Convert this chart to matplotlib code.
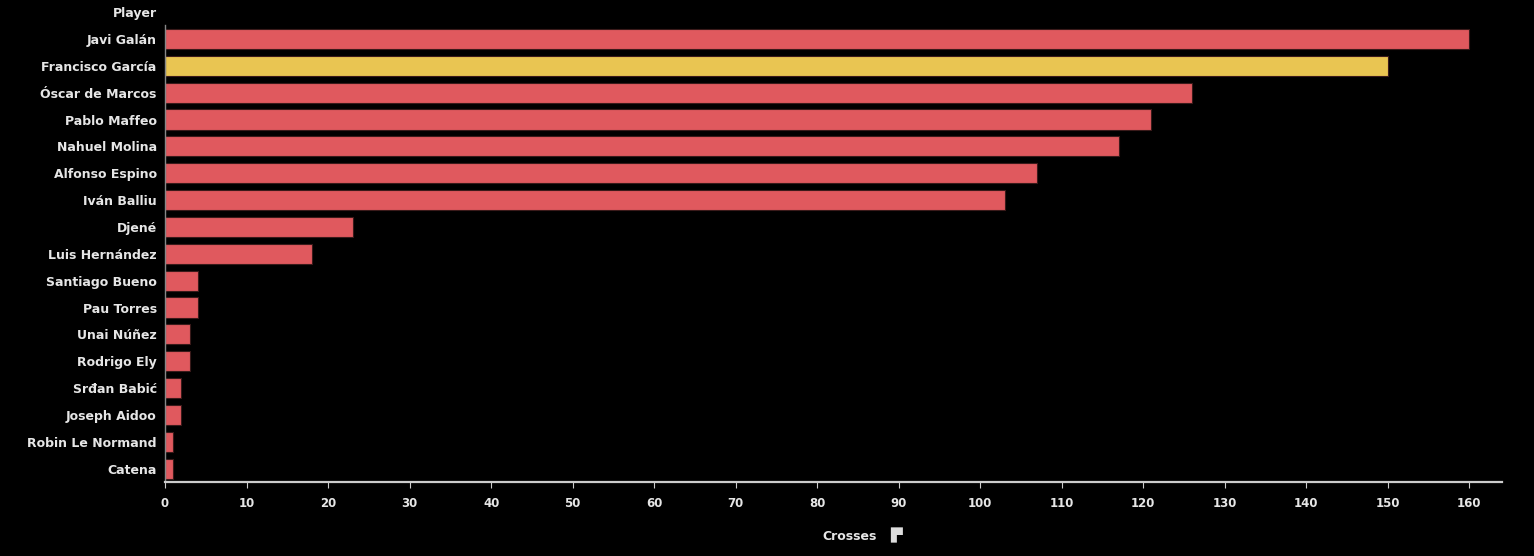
import matplotlib
matplotlib.use("Agg")
import matplotlib.pyplot as plt
import numpy as np

players = ["Javi Galán", "Francisco García", "Óscar de Marcos", "Pablo Maffeo",
           "Nahuel Molina", "Alfonso Espino", "Iván Balliu", "Djené",
           "Luis Hernández", "Santiago Bueno", "Pau Torres", "Unai Núñez",
           "Rodrigo Ely", "Srđan Babić", "Joseph Aidoo", "Robin Le Normand",
           "Catena"]
crosses = [160, 150, 126, 121, 117, 107, 103, 23, 18, 4, 4, 3, 3, 2, 2, 1, 1]
highlight = "Francisco García"
xticks = list(range(0, 161, 10))

red = "#e0595e"
yellow = "#e9c552"
txt = "#e6e6e6"

plt.rcParams['font.family'] = ['DejaVu Sans']

fig = plt.figure(figsize=(15.34, 5.56), dpi=100)
fig.patch.set_facecolor("black")
ax = fig.add_axes([0.1076, 0.133, 0.8715, 0.822])
ax.set_facecolor("black")

y = np.arange(len(players))
colors = [yellow if p == highlight else red for p in players]
ax.barh(y, crosses, height=0.75, color=colors, edgecolor="#3a1a1a", linewidth=0.8)

ax.set_ylim(len(players) - 0.5, -0.52)
ax.set_xlim(0, 164)
ax.set_yticks(y)
ax.set_yticklabels(players, fontsize=9, fontweight="bold", color=txt)
ax.set_xticks(xticks)
ax.set_xticklabels([str(t) for t in xticks], fontsize=8.5, fontweight="bold", color=txt)
ax.tick_params(axis="y", length=0, pad=6)
ax.tick_params(axis="x", length=4, color="#cccccc", pad=7)

for s in ["top", "right"]:
    ax.spines[s].set_visible(False)
ax.spines["left"].set_color("#888888")
ax.spines["left"].set_linewidth(1)
ax.spines["bottom"].set_color("#cccccc")
ax.spines["bottom"].set_linewidth(1.6)

fig.text(157 / 1534, 1 - 14 / 556, "Player", ha="right", va="center",
         fontsize=9, fontweight="bold", color=txt)
fig.text(850 / 1534, 1 - 536 / 556, "Crosses", ha="center", va="center",
         fontsize=9, fontweight="bold", color=txt)
fig.text(896 / 1534, 1 - 535 / 556, "\u259B", ha="center", va="center",
         fontsize=11, color="#dddddd", family="DejaVu Sans")

fig.savefig("out.png", dpi=100, facecolor="black")
